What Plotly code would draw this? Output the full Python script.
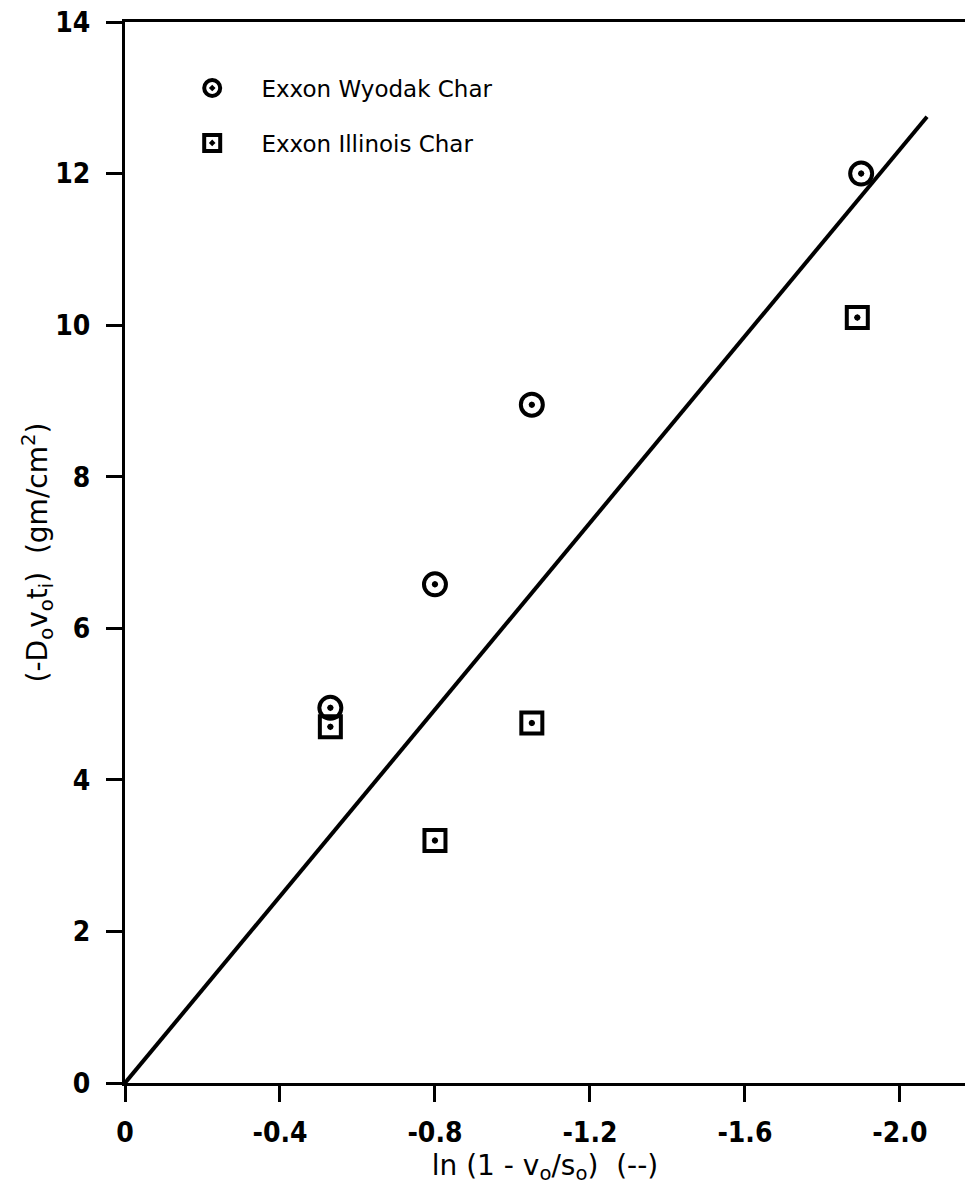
import plotly.graph_objects as go

# Measured points: ln(1 - v_o/s_o) versus -D_o v_o t_i
x_wyodak = [-0.53, -0.80, -1.05, -1.90]
y_wyodak = [4.95, 6.58, 8.95, 12.0]

x_illinois = [-0.53, -0.80, -1.05, -1.89]
y_illinois = [4.70, 3.20, 4.75, 10.1]

# Fitted straight line through the origin
x_fit = [0.0, -2.07]
y_fit = [0.0, 12.75]

x_ticks = [0, -0.4, -0.8, -1.2, -1.6, -2.0]
x_ticklabels = ["0", "-0.4", "-0.8", "-1.2", "-1.6", "-2.0"]
y_ticks = [0, 2, 4, 6, 8, 10, 12, 14]
y_ticklabels = ["0", "2", "4", "6", "8", "10", "12", "14"]

TICK_FONT = "Liberation Sans Narrow, DejaVu Sans Condensed, Arial Narrow, sans-serif"
TEXT_FONT = "DejaVu Sans, Verdana, sans-serif"
NB = "\u00a0"

fig = go.Figure()

fig.add_trace(go.Scatter(
    x=x_fit, y=y_fit, mode="lines",
    line=dict(color="black", width=4),
    showlegend=False, hoverinfo="skip",
))

fig.add_trace(go.Scatter(
    x=x_wyodak, y=y_wyodak, mode="markers",
    name=NB * 4 + "Exxon Wyodak Char", legendgroup="w",
    marker=dict(symbol="circle-open-dot", size=22, color="black",
                line=dict(width=4, color="black")),
))

fig.add_trace(go.Scatter(
    x=x_illinois, y=y_illinois, mode="markers",
    name=NB * 4 + "Exxon Illinois Char", legendgroup="i",
    marker=dict(symbol="square-open-dot", size=21, color="black",
                line=dict(width=4, color="black")),
))

# centre dots of the open symbols, a little heavier than the built-in ones
fig.add_trace(go.Scatter(
    x=x_wyodak + x_illinois, y=y_wyodak + y_illinois, mode="markers",
    marker=dict(symbol="circle", size=6, color="black"),
    showlegend=False, hoverinfo="skip",
))

fig.update_layout(
    width=965, height=1196,
    margin=dict(l=125, r=0, t=22, b=113),
    paper_bgcolor="white", plot_bgcolor="white",
    showlegend=True,
    legend=dict(
        x=0.08, y=0.958, xanchor="left", yanchor="top",
        font=dict(family=TEXT_FONT, size=23, color="black"),
        bgcolor="rgba(0,0,0,0)", tracegroupgap=22,
        traceorder="grouped",
    ),
    font=dict(family=TICK_FONT, color="black"),
)

fig.update_xaxes(
    range=[0, -2.168],
    tickvals=x_ticks, ticktext=x_ticklabels,
    ticks="outside", ticklen=16, tickwidth=3, tickcolor="black",
    ticklabelstandoff=6,
    showline=True, linewidth=3, linecolor="black", mirror=True,
    showgrid=False, zeroline=False,
    tickfont=dict(family=TICK_FONT, size=28, color="black", weight="bold"),
    title=dict(
        text="ln (1 - v<sub>o</sub>/s<sub>o</sub>)  (--)",
        font=dict(family=TEXT_FONT, size=28, color="black"),
        standoff=2,
    ),
)

fig.update_yaxes(
    range=[0, 14],
    tickvals=y_ticks, ticktext=y_ticklabels,
    ticks="outside", ticklen=16, tickwidth=3, tickcolor="black",
    ticklabelstandoff=10,
    showline=True, linewidth=3, linecolor="black",
    showgrid=False, zeroline=False,
    tickfont=dict(family=TICK_FONT, size=28, color="black", weight="bold"),
    title=dict(
        text="(-D<sub>o</sub>v<sub>o</sub>t<sub>i</sub>)  (gm/cm<sup>2</sup>)",
        font=dict(family=TEXT_FONT, size=28, color="black"),
        standoff=0,
    ),
)

fig.write_html("out.html")
